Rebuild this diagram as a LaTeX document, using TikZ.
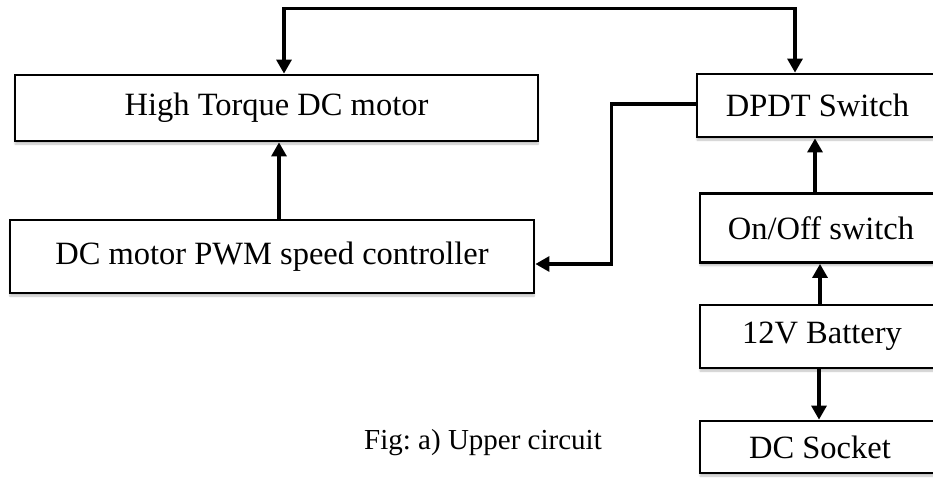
\documentclass[tikz,border=0pt]{standalone}
\usepackage{fontspec}
\setmainfont{Liberation Serif}
\usetikzlibrary{arrows.meta,shadows.blur}
\frenchspacing
\begin{document}
\begin{tikzpicture}[x=1pt,y=1pt,
  blk/.style={draw=black, line width=2.8pt, fill=white, inner sep=0pt,
    font=\fontsize{32.5}{38}\selectfont,
    blur shadow={shadow xshift=0pt, shadow yshift=-3pt, shadow blur steps=6, shadow opacity=25}},
  arr/.style={line width=3.2pt, -{Triangle[length=14pt,width=15pt]}},
  dbl/.style={line width=3.2pt, {Triangle[length=14pt,width=15pt]}-{Triangle[length=14pt,width=15pt]}}]
\useasboundingbox (0,0) rectangle (933,-479);
\clip (0,0) rectangle (933,-479);
\node[blk, minimum width=523, minimum height=66] (ht) at (276.5,-108) {High Torque DC motor};
\node[blk, minimum width=524, minimum height=73] (pwm) at (272,-256.5) {DC motor PWM speed controller};
\node[blk, minimum width=241, minimum height=63] (dpdt) at (817.5,-105.5) {DPDT Switch};
\node[blk, minimum width=242, minimum height=69] (onoff) at (821,-228) {On/Off switch};
\node[blk, minimum width=244, minimum height=63] (batt) at (822,-336.5) {12V Battery};
\node[blk, minimum width=240, minimum height=52] (sock) at (820,-447) {DC Socket};
\node[font=\fontsize{29}{34}\selectfont] (cap) at (483,-443) {Fig: a) Upper circuit};
\draw[dbl] ([xshift=7.5]ht.north) |- ([xshift=-22.5,yshift=64]dpdt.north) -- ([xshift=-22.5]dpdt.north);
\draw[arr] ([xshift=7]pwm.north) -- ([xshift=7]pwm.north |- ht.south);
\draw[arr] ([xshift=-6]onoff.north) -- ([xshift=-6]onoff.north |- dpdt.south);
\draw[arr] ([xshift=-2]batt.north) -- ([xshift=-2]batt.north |- onoff.south);
\draw[arr] ([xshift=-3]batt.south) -- ([xshift=-3]batt.south |- sock.north);
\draw[arr] ([yshift=1.5]dpdt.west) -- ++(-84,0) |- ([yshift=-7.5]pwm.east);
\end{tikzpicture}
\end{document}
